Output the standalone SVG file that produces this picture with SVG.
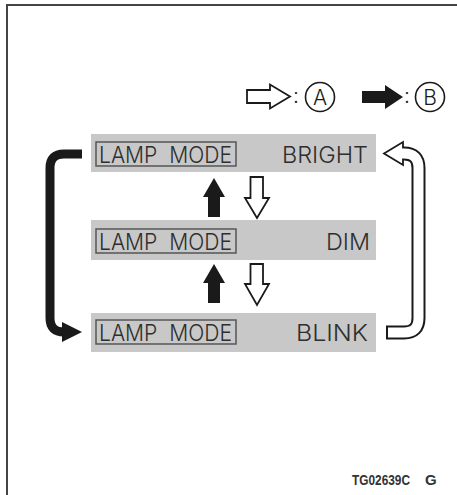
<svg xmlns="http://www.w3.org/2000/svg" width="457" height="495" viewBox="0 0 457 495">
  <style>
    .bar { fill: #c8c8c8; }
    .lbox { fill: none; stroke: #555; stroke-width: 1.5; }
    .lcd { font-family: "Inter", "Liberation Sans", "DejaVu Sans", sans-serif; font-weight: 300; font-size: 23px; fill: #2e2e2e; white-space: pre; }
    .hollow { fill: #fff; stroke: #1a1a1a; stroke-width: 1.8; stroke-linejoin: miter; }
    .solid { fill: #1a1a1a; stroke: none; }
    .leg { font-family: "Inter", "Liberation Sans", "DejaVu Sans", sans-serif; font-weight: 300; font-size: 21px; fill: #1a1a1a; }
    .foot { font-family: "Liberation Sans", "DejaVu Sans", sans-serif; font-size: 15px; font-weight: bold; fill: #333; }
  </style>

  <g id="frame">
    <path d="M7 495 L7 5 L457 5" fill="none" stroke="#444" stroke-width="2"/>
  </g>

  <g id="legend">
    <polygon class="hollow" points="247,90 270,90 270,84.5 290,96.5 270,108.5 270,103 247,103"/>
    <text class="leg" x="293" y="103">:</text>
    <circle cx="320" cy="97" r="14.5" fill="none" stroke="#1a1a1a" stroke-width="1.6"/>
    <text class="leg" x="320" y="104.5" text-anchor="middle">A</text>
    <polygon class="solid" points="362,91 385,91 385,85 403,97 385,109 385,103 362,103"/>
    <text class="leg" x="404" y="103">:</text>
    <circle cx="430" cy="97" r="14.5" fill="none" stroke="#1a1a1a" stroke-width="1.6"/>
    <text class="leg" x="430" y="104.5" text-anchor="middle">B</text>
  </g>

  <g id="bar-bright">
    <rect class="bar" x="91" y="134" width="285" height="38"/>
    <rect class="lbox" x="96" y="142" width="140" height="24"/>
    <text class="lcd" x="99" y="163" textLength="133" lengthAdjust="spacingAndGlyphs" xml:space="preserve">LAMP  MODE</text>
    <text class="lcd" x="282" y="163" textLength="86" lengthAdjust="spacingAndGlyphs">BRIGHT</text>
  </g>

  <g id="bar-dim">
    <rect class="bar" x="91" y="220" width="285" height="40"/>
    <rect class="lbox" x="96" y="229" width="140" height="24"/>
    <text class="lcd" x="99" y="250" textLength="133" lengthAdjust="spacingAndGlyphs" xml:space="preserve">LAMP  MODE</text>
    <text class="lcd" x="326" y="250" textLength="44" lengthAdjust="spacingAndGlyphs">DIM</text>
  </g>

  <g id="bar-blink">
    <rect class="bar" x="91" y="313" width="285" height="39"/>
    <rect class="lbox" x="96" y="320" width="140" height="24"/>
    <text class="lcd" x="99" y="341" textLength="133" lengthAdjust="spacingAndGlyphs" xml:space="preserve">LAMP  MODE</text>
    <text class="lcd" x="296" y="341" textLength="72" lengthAdjust="spacingAndGlyphs">BLINK</text>
  </g>

  <g id="connectors">
    <polygon class="solid" points="214,178 225,197 220,197 220,217 208,217 208,197 203,197"/>
    <polygon class="solid" points="214,264 225,283 220,283 220,303 208,303 208,283 203,283"/>
    <polygon class="hollow" points="250.5,177 263,177 263,198 269,198 257,218 245,198 250.5,198"/>
    <polygon class="hollow" points="250.5,264 263,264 263,284 269,284 257,305 245,284 250.5,284"/>
    <path d="M82 154 L64 154 Q50 154 50 168 L50 318 Q50 332 64 332 L66 332" fill="none" stroke="#1a1a1a" stroke-width="9"/>
    <polygon class="solid" points="82,332 62,322 62,342"/>
    <path d="M400 153.5 L404 153.5 Q418.5 153.5 418.5 168 L418.5 318 Q418.5 332.5 404 332.5 L386 332.5" fill="none" stroke="#1a1a1a" stroke-width="14"/>
    <path d="M399 153.5 L404 153.5 Q418.5 153.5 418.5 168 L418.5 318 Q418.5 332.5 404 332.5 L388 332.5" fill="none" stroke="#fff" stroke-width="10"/>
    <polygon class="hollow" points="384,153.5 403,142 403,165"/>
    <line x1="403" y1="148.5" x2="403" y2="158.5" stroke="#fff" stroke-width="2.5"/>
  </g>

  <g id="code">
    <text class="foot" x="352" y="485" textLength="58" lengthAdjust="spacingAndGlyphs">TG02639C</text>
    <text class="foot" x="425" y="485">G</text>
  </g>
</svg>
